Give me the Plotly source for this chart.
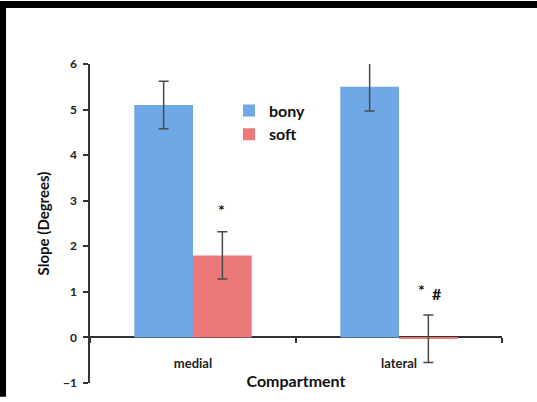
import plotly.graph_objects as go

categories = ["medial", "lateral"]
bony = [5.1, 5.5]
bony_err = [0.52, 0.53]
soft = [1.8, -0.03]
soft_err = [0.52, 0.52]
soft_marks = [["*"], ["*", "#"]]
y_ticks = [-1, 0, 1, 2, 3, 4, 5, 6]

FONT = "Lato"
AXIS = "#333333"
ERR = "#4a4a4a"

fig = go.Figure()
fig.add_trace(go.Bar(
    name="bony", x=categories, y=bony,
    marker=dict(color="#6fa8e6", line=dict(width=0)),
    error_y=dict(type="data", array=bony_err, color=ERR, thickness=1.5, width=5),
))
fig.add_trace(go.Bar(
    name="soft", x=categories, y=soft,
    marker=dict(color="#ec7878", line=dict(width=0)),
    error_y=dict(type="data", array=soft_err, color=ERR, thickness=1.5, width=5),
))

annotations = []
for i, cat in enumerate(categories):
    marks = soft_marks[i]
    n = len(marks)
    for j, m in enumerate(marks):
        offs = (j - (n - 1) / 2) * 15
        annotations.append(dict(
            x=cat, y=soft[i] + soft_err[i], xref="x", yref="y",
            text=m, showarrow=False, xshift=29 + offs + (1 if n > 1 else -1),
            yshift=22 + (4 if (m == "*" and n > 1) else 0),
            font=dict(family=FONT, size=16, color="#111111", weight="bold"),
        ))

W, H = 537, 402
L, R, T, B = 90, 35, 64, 14
pw, ph = W - L - R, H - T - B

def px_x(p):
    return (p - L) / pw

def px_y(p):
    return (H - B - p) / ph

shapes = [
    dict(type="rect", xref="paper", yref="paper", x0=px_x(0), x1=px_x(W),
         y0=px_y(7), y1=px_y(0), fillcolor="black", line=dict(width=0), layer="above"),
    dict(type="rect", xref="paper", yref="paper", x0=px_x(0), x1=px_x(6),
         y0=px_y(H), y1=px_y(0), fillcolor="black", line=dict(width=0), layer="above"),
]

fig.update_layout(
    width=W, height=H,
    margin=dict(l=L, r=R, t=T, b=B),
    paper_bgcolor="white", plot_bgcolor="white",
    barmode="group", bargap=0.43, bargroupgap=0,
    font=dict(family=FONT, color="#222222"),
    showlegend=True,
    legend=dict(x=px_x(229), y=px_y(94), xanchor="left", yanchor="top",
                bgcolor="rgba(0,0,0,0)", font=dict(family=FONT, size=16, color="#111111", weight="bold"),
                itemwidth=30, tracegroupgap=0),
    annotations=annotations,
    shapes=shapes,
    xaxis=dict(
        type="category", range=[-0.5, 1.5],
        anchor="free", position=(0 - y_ticks[0]) / (y_ticks[-1] - y_ticks[0]),
        showline=True, linecolor=AXIS, linewidth=1.5, layer="below traces",
        ticks="outside", tickson="boundaries", ticklen=5, tickwidth=1.5, tickcolor=AXIS,
        ticklabelstandoff=14,
        tickfont=dict(family=FONT, size=13, color="#222222", weight="bold"),
        showgrid=False, zeroline=False,
        title=dict(text="Compartment", font=dict(family=FONT, size=16, color="#111111", weight="bold"),
                   standoff=5),
    ),
    yaxis=dict(
        range=[y_ticks[0], y_ticks[-1]], tickmode="array", tickvals=y_ticks,
        showline=True, linecolor=AXIS, linewidth=1.5,
        ticks="outside", ticklen=5, tickwidth=1.5, tickcolor=AXIS,
        ticklabelstandoff=4,
        tickfont=dict(family=FONT, size=12, color="#222222", weight="bold"),
        showgrid=False, zeroline=False,
        title=dict(text="Slope (Degrees)", font=dict(family=FONT, size=15, color="#111111", weight="bold"),
                   standoff=10),
    ),
)

fig.write_html("out.html", config={"displayModeBar": False},
               post_script="document.body.style.margin='0';document.body.style.overflow='hidden';")
